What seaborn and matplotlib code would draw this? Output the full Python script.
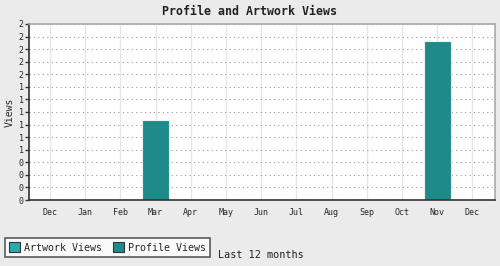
import matplotlib
matplotlib.use("Agg")
import matplotlib.pyplot as plt
import seaborn as sns
import pandas as pd
import numpy as np
from matplotlib.patches import Patch

months = ["Dec", "Jan", "Feb", "Mar", "Apr", "May", "Jun", "Jul", "Aug", "Sep", "Oct", "Nov", "Dec "]
artwork_views = [0, 0, 0, 0, 0, 0, 0, 0, 0, 0, 0, 0, 0]
profile_views = [0, 0, 0, 1, 0, 0, 0, 0, 0, 0, 0, 2, 0]
series_names = ["Artwork Views", "Profile Views"]
series_colors = ["#2aabab", "#1e8a8a"]

df = pd.DataFrame({
    "month": months * 2,
    "views": artwork_views + profile_views,
    "series": [series_names[0]] * len(months) + [series_names[1]] * len(months),
})

sns.set_style("white")
plt.rcParams["font.family"] = ["DejaVu Sans Mono"]

fig = plt.figure(figsize=(5, 2.66), dpi=100, facecolor="#ebebeb")
ax = fig.add_axes([0.0586, 0.248, 0.932, 0.662])
ax.set_facecolor("white")

sns.barplot(data=df, x="month", y="views", hue="series", order=months,
            hue_order=series_names, palette=series_colors, dodge=False,
            width=0.77, ax=ax, edgecolor="#f0f0f0", linewidth=0.8,
            legend=False, saturation=1)

ymax = 2.214
yt = np.linspace(0, ymax, 15)
ax.set_ylim(0, ymax)
ax.set_yticks(yt)
ax.set_yticklabels([f"{v:.0f}" for v in yt])
ax.set_xlim(-0.588, 12.65)
ax.set_xticks(range(len(months)))
ax.set_xticklabels([m.strip() for m in months], fontsize=6)
ax.yaxis.grid(True, linestyle=(0, (1, 3)), color="#999999", linewidth=0.8)
ax.xaxis.grid(True, linestyle="-", color="#e6e6e6", linewidth=1.0)
ax.set_axisbelow(True)

ax.tick_params(axis="x", length=0, pad=6)
ax.tick_params(axis="y", length=3, width=1, color="#333333", labelsize=6, pad=1, left=True)
ax.set_xlabel("")
ax.set_ylabel("Views", fontsize=7, labelpad=3)

for s in ["left", "bottom"]:
    ax.spines[s].set_color("#333333")
    ax.spines[s].set_linewidth(1.2)
for s in ["top", "right"]:
    ax.spines[s].set_color("#aaaaaa")
    ax.spines[s].set_linewidth(1.2)

fig.text(0.5, 0.955, "Profile and Artwork Views", ha="center", va="center",
         fontsize=8.4, fontweight="bold", color="#222222")

handles = [Patch(facecolor=c, edgecolor="#333333", linewidth=0.8) for c in series_colors]
leg = fig.legend(handles, series_names, loc="lower left", bbox_to_anchor=(0.01, 0.035),
                 ncol=2, fontsize=7.2, frameon=True, fancybox=False, handlelength=1.1,
                 handleheight=1.1, handletextpad=0.4, columnspacing=1.1,
                 borderpad=0.4, borderaxespad=0)
leg.get_frame().set_edgecolor("#333333")
leg.get_frame().set_linewidth(1.2)
leg.get_frame().set_facecolor("white")

fig.text(0.436, 0.04, "Last 12 months", ha="left", va="center", fontsize=7.3, color="#222222")

fig.savefig("out.png", dpi=100, facecolor=fig.get_facecolor())
